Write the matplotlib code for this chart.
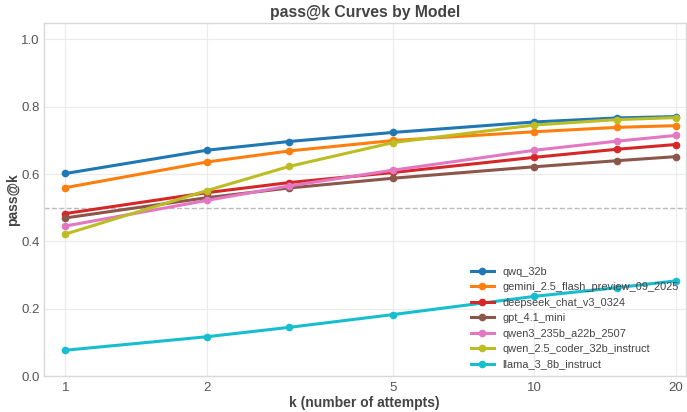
import matplotlib
matplotlib.use("Agg")
import matplotlib.pyplot as plt
from matplotlib.ticker import FixedLocator, FixedFormatter, NullLocator

plt.rcParams['font.family'] = ['Liberation Sans', 'DejaVu Sans']

k_values = [1, 2, 3, 5, 10, 15, 20]
tick_values = [1, 2, 5, 10, 20]
tick_labels = ["1", "2", "5", "10", "20"]

models = [
    "qwq_32b",
    "gemini_2.5_flash_preview_09_2025",
    "deepseek_chat_v3_0324",
    "gpt_4.1_mini",
    "qwen3_235b_a22b_2507",
    "qwen_2.5_coder_32b_instruct",
    "llama_3_8b_instruct",
]
qwq_32b = [0.602, 0.671, 0.697, 0.724, 0.755, 0.767, 0.771]
gemini = [0.560, 0.636, 0.669, 0.700, 0.726, 0.739, 0.744]
deepseek = [0.483, 0.545, 0.575, 0.605, 0.650, 0.674, 0.688]
gpt_mini = [0.470, 0.530, 0.559, 0.588, 0.622, 0.640, 0.652]
qwen3 = [0.446, 0.522, 0.565, 0.612, 0.671, 0.698, 0.715]
qwen_coder = [0.422, 0.551, 0.623, 0.694, 0.746, 0.762, 0.768]
llama = [0.077, 0.117, 0.145, 0.183, 0.237, 0.263, 0.283]
series = [qwq_32b, gemini, deepseek, gpt_mini, qwen3, qwen_coder, llama]
colors = ["#1f77b4", "#ff7f0e", "#d62728", "#8c564b", "#e377c2", "#bcbd22", "#17becf"]
threshold = 0.5

fig = plt.figure(figsize=(6.87, 4.12), dpi=100)
ax = fig.add_axes([0.064, 0.087, 0.934, 0.858])

ax.axhline(threshold, color="#bbbbbb", linestyle="--", linewidth=1.0, zorder=1)
for name, vals, c in zip(models, series, colors):
    ax.plot(k_values, vals, color=c, linewidth=2.2, marker="o", markersize=4.5,
            label=name, zorder=3)

ax.set_xscale("log")
ax.xaxis.set_major_locator(FixedLocator(tick_values))
ax.xaxis.set_major_formatter(FixedFormatter(tick_labels))
ax.xaxis.set_minor_locator(NullLocator())
ax.set_xlim(0.9, 21.0)
ax.set_ylim(0, 1.05)
ax.set_yticks([0.0, 0.2, 0.4, 0.6, 0.8, 1.0])

ax.grid(True, color="#ebebeb", linewidth=0.8, zorder=0)
ax.set_axisbelow(True)
for s in ax.spines.values():
    s.set_color("#d9d9d9")
    s.set_linewidth(1.0)
ax.tick_params(axis="both", length=0, labelsize=9.5, labelcolor="#555555", pad=4)
ax.tick_params(axis="y", pad=3)

ax.set_xlabel("k (number of attempts)", fontsize=10, fontweight="bold", color="#444444", labelpad=2)
ax.set_ylabel("pass@k", fontsize=10, fontweight="bold", color="#444444", labelpad=1)
ax.set_title("pass@k Curves by Model", fontsize=11.3, fontweight="bold", color="#444444", pad=4)

leg = ax.legend(loc="lower right", frameon=False, fontsize=7.9, handlelength=2.1,
                borderaxespad=0.2, labelspacing=0.5)
for t in leg.get_texts():
    t.set_color("#444444")

fig.savefig("out.png", dpi=100)
